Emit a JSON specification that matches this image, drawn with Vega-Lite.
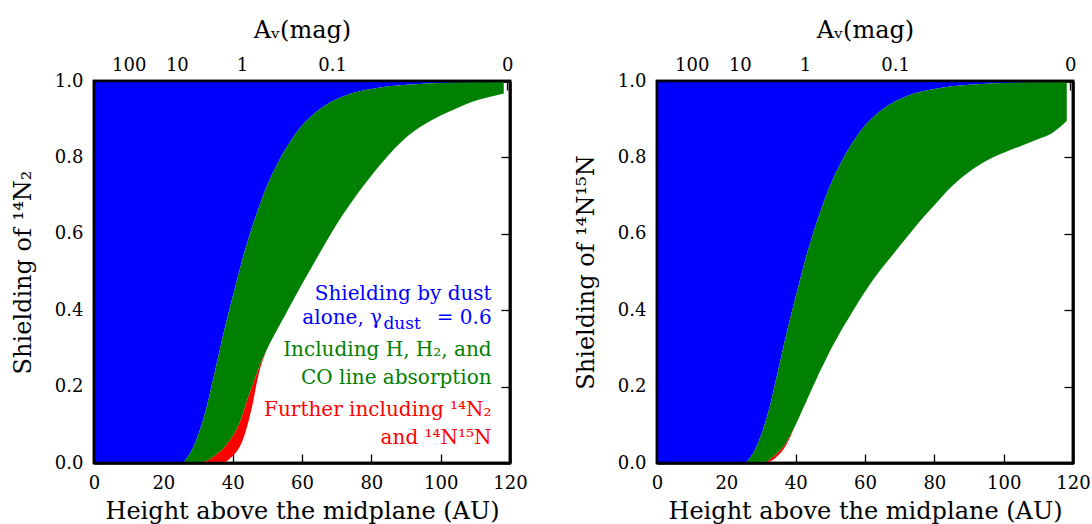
{
  "$schema": "https://vega.github.io/schema/vega-lite/v6.json",
  "padding": {"left": 10, "top": 16, "right": 0, "bottom": 0},
  "background": "white",
  "datasets": {
    "left": [
      {"x": 0.3, "dust": 0, "gas": 0, "n2": 0},
      {"x": 25.3, "dust": 0, "gas": 0, "n2": 0},
      {"x": 26.5, "dust": 0.01, "gas": 0, "n2": 0},
      {"x": 28, "dust": 0.03, "gas": 0, "n2": 0},
      {"x": 29.5, "dust": 0.06, "gas": 0, "n2": 0},
      {"x": 30.6, "dust": 0.088, "gas": 0, "n2": 0},
      {"x": 32, "dust": 0.13, "gas": 0.004, "n2": 0},
      {"x": 33, "dust": 0.165, "gas": 0.008, "n2": 0},
      {"x": 34, "dust": 0.205, "gas": 0.013, "n2": 0},
      {"x": 35, "dust": 0.245, "gas": 0.02, "n2": 0},
      {"x": 36, "dust": 0.285, "gas": 0.027, "n2": 0},
      {"x": 37, "dust": 0.325, "gas": 0.035, "n2": 0},
      {"x": 38, "dust": 0.363, "gas": 0.045, "n2": 0.003},
      {"x": 39, "dust": 0.4, "gas": 0.057, "n2": 0.01},
      {"x": 40, "dust": 0.435, "gas": 0.07, "n2": 0.018},
      {"x": 41, "dust": 0.47, "gas": 0.085, "n2": 0.028},
      {"x": 42, "dust": 0.505, "gas": 0.105, "n2": 0.042},
      {"x": 43, "dust": 0.54, "gas": 0.13, "n2": 0.062},
      {"x": 44, "dust": 0.57, "gas": 0.16, "n2": 0.09},
      {"x": 45, "dust": 0.6, "gas": 0.185, "n2": 0.125},
      {"x": 46, "dust": 0.628, "gas": 0.21, "n2": 0.165},
      {"x": 47, "dust": 0.655, "gas": 0.235, "n2": 0.212},
      {"x": 48, "dust": 0.68, "gas": 0.26, "n2": 0.25},
      {"x": 49, "dust": 0.705, "gas": 0.28, "n2": 0.277},
      {"x": 50, "dust": 0.727, "gas": 0.3, "n2": 0.299},
      {"x": 51, "dust": 0.748, "gas": 0.318, "n2": 0.318},
      {"x": 52, "dust": 0.767, "gas": 0.335, "n2": 0.335},
      {"x": 53, "dust": 0.785, "gas": 0.352, "n2": 0.352},
      {"x": 55, "dust": 0.818, "gas": 0.385, "n2": 0.385},
      {"x": 58, "dust": 0.86, "gas": 0.435, "n2": 0.435},
      {"x": 61, "dust": 0.893, "gas": 0.484, "n2": 0.484},
      {"x": 64, "dust": 0.918, "gas": 0.532, "n2": 0.532},
      {"x": 68, "dust": 0.943, "gas": 0.595, "n2": 0.595},
      {"x": 72, "dust": 0.96, "gas": 0.653, "n2": 0.653},
      {"x": 76, "dust": 0.972, "gas": 0.705, "n2": 0.705},
      {"x": 80, "dust": 0.979, "gas": 0.752, "n2": 0.752},
      {"x": 85, "dust": 0.986, "gas": 0.806, "n2": 0.806},
      {"x": 90, "dust": 0.99, "gas": 0.852, "n2": 0.852},
      {"x": 95, "dust": 0.993, "gas": 0.885, "n2": 0.885},
      {"x": 100, "dust": 0.995, "gas": 0.91, "n2": 0.91},
      {"x": 105, "dust": 0.996, "gas": 0.93, "n2": 0.93},
      {"x": 110, "dust": 0.997, "gas": 0.948, "n2": 0.948},
      {"x": 114, "dust": 0.997, "gas": 0.958, "n2": 0.958},
      {"x": 118.2, "dust": 0.998, "gas": 0.967, "n2": 0.967}
    ],
    "right": [
      {"x": 0.3, "dust": 0, "gas": 0, "n2": 0},
      {"x": 25.3, "dust": 0, "gas": 0, "n2": 0},
      {"x": 26.5, "dust": 0.01, "gas": 0, "n2": 0},
      {"x": 28, "dust": 0.03, "gas": 0, "n2": 0},
      {"x": 29.5, "dust": 0.06, "gas": 0, "n2": 0},
      {"x": 30.6, "dust": 0.088, "gas": 0, "n2": 0},
      {"x": 32, "dust": 0.13, "gas": 0.006, "n2": 0.002},
      {"x": 33, "dust": 0.165, "gas": 0.012, "n2": 0.006},
      {"x": 34, "dust": 0.205, "gas": 0.02, "n2": 0.012},
      {"x": 35, "dust": 0.245, "gas": 0.028, "n2": 0.02},
      {"x": 36, "dust": 0.285, "gas": 0.038, "n2": 0.03},
      {"x": 37, "dust": 0.325, "gas": 0.05, "n2": 0.043},
      {"x": 38, "dust": 0.363, "gas": 0.065, "n2": 0.06},
      {"x": 39, "dust": 0.4, "gas": 0.082, "n2": 0.08},
      {"x": 40, "dust": 0.435, "gas": 0.1, "n2": 0.1},
      {"x": 41, "dust": 0.47, "gas": 0.12, "n2": 0.12},
      {"x": 42, "dust": 0.505, "gas": 0.14, "n2": 0.14},
      {"x": 43, "dust": 0.54, "gas": 0.16, "n2": 0.16},
      {"x": 44, "dust": 0.57, "gas": 0.18, "n2": 0.18},
      {"x": 45, "dust": 0.6, "gas": 0.2, "n2": 0.2},
      {"x": 46, "dust": 0.628, "gas": 0.22, "n2": 0.22},
      {"x": 47, "dust": 0.655, "gas": 0.24, "n2": 0.24},
      {"x": 48, "dust": 0.68, "gas": 0.258, "n2": 0.258},
      {"x": 49, "dust": 0.705, "gas": 0.277, "n2": 0.277},
      {"x": 50, "dust": 0.727, "gas": 0.295, "n2": 0.295},
      {"x": 51, "dust": 0.748, "gas": 0.312, "n2": 0.312},
      {"x": 52, "dust": 0.767, "gas": 0.328, "n2": 0.328},
      {"x": 53, "dust": 0.785, "gas": 0.345, "n2": 0.345},
      {"x": 55, "dust": 0.818, "gas": 0.375, "n2": 0.375},
      {"x": 58, "dust": 0.86, "gas": 0.42, "n2": 0.42},
      {"x": 61, "dust": 0.893, "gas": 0.462, "n2": 0.462},
      {"x": 64, "dust": 0.918, "gas": 0.5, "n2": 0.5},
      {"x": 68, "dust": 0.943, "gas": 0.545, "n2": 0.545},
      {"x": 72, "dust": 0.96, "gas": 0.59, "n2": 0.59},
      {"x": 76, "dust": 0.972, "gas": 0.635, "n2": 0.635},
      {"x": 80, "dust": 0.979, "gas": 0.675, "n2": 0.675},
      {"x": 85, "dust": 0.986, "gas": 0.724, "n2": 0.724},
      {"x": 90, "dust": 0.99, "gas": 0.762, "n2": 0.762},
      {"x": 95, "dust": 0.993, "gas": 0.791, "n2": 0.791},
      {"x": 100, "dust": 0.995, "gas": 0.812, "n2": 0.812},
      {"x": 105, "dust": 0.996, "gas": 0.83, "n2": 0.83},
      {"x": 110, "dust": 0.997, "gas": 0.848, "n2": 0.848},
      {"x": 114, "dust": 0.997, "gas": 0.864, "n2": 0.864},
      {"x": 118.2, "dust": 0.998, "gas": 0.895, "n2": 0.895}
    ],
    "notes": [
      {"text": "Shielding by dust", "x": 114.7, "y": 0.426, "group": "dust"},
      {"text": "= 0.6", "x": 114.7, "y": 0.363, "group": "dust"},
      {"text": "alone, γ", "x": 83.1, "y": 0.363, "group": "dust"},
      {"text": "Including H, H₂, and", "x": 114.7, "y": 0.28, "group": "gas"},
      {"text": "CO line absorption", "x": 114.7, "y": 0.207, "group": "gas"},
      {"text": "Further including ¹⁴N₂", "x": 114.7, "y": 0.123, "group": "n2"},
      {"text": "and ¹⁴N¹⁵N", "x": 114.7, "y": 0.05, "group": "n2"}
    ],
    "subs": [
      {"text": "dust", "x": 83.5, "y": 0.352, "group": "dust"}
    ]
  },
  "hconcat": [
    {
      "width": 416,
      "height": 382,
      "layer": [
        {
          "data": {"name": "left"},
          "mark": {"type": "area", "interpolate": "monotone", "color": "#0000ff"},
          "encoding": {
            "x": {"field": "x", "type": "quantitative", "scale": {"domain": [0, 120], "nice": false},
              "axis": {"orient": "bottom", "values": [0, 20, 40, 60, 80, 100, 120], "title": "Height above the midplane (AU)", "labelPadding": 20, "titlePadding": 7}},
            "y": {"field": "dust", "type": "quantitative", "scale": {"domain": [0, 1], "nice": false, "zero": false},
              "axis": {"orient": "left", "values": [0, 0.2, 0.4, 0.6, 0.8, 1.0], "format": ".1f", "title": "Shielding of ¹⁴N₂", "labelPadding": 20, "titlePadding": 19}},
            "y2": {"datum": 1}
          }
        },
        {
          "data": {"name": "left"},
          "mark": {"type": "area", "interpolate": "monotone", "color": "#008000"},
          "encoding": {
            "x": {"field": "x", "type": "quantitative",
              "axis": {"orient": "top", "values": [10, 23.9, 42.65, 68.7, 119.2], "labelExpr": "datum.value < 15 ? '100' : datum.value < 30 ? '10' : datum.value < 50 ? '1' : datum.value < 100 ? '0.1' : '0'", "title": "Aᵥ(mag)", "labelPadding": 16, "titlePadding": 14}},
            "y": {"field": "gas", "type": "quantitative",
              "axis": {"orient": "right", "values": [0, 0.2, 0.4, 0.6, 0.8, 1.0], "labels": false, "title": null}},
            "y2": {"field": "dust"}
          }
        },
        {
          "data": {"name": "left"},
          "mark": {"type": "area", "interpolate": "monotone", "color": "#ff0000"},
          "encoding": {
            "x": {"field": "x", "type": "quantitative", "axis": null},
            "y": {"field": "n2", "type": "quantitative", "axis": null},
            "y2": {"field": "gas"}
          }
        },
        {
          "data": {"name": "notes"},
          "mark": {"type": "text", "align": "right", "baseline": "alphabetic", "fontSize": 20, "font": "DejaVu Serif"},
          "encoding": {
            "x": {"field": "x", "type": "quantitative", "axis": null},
            "y": {"field": "y", "type": "quantitative", "axis": null},
            "text": {"field": "text"},
            "color": {"field": "group", "type": "nominal", "legend": null,
              "scale": {"domain": ["dust", "gas", "n2"], "range": ["#0000ff", "#008000", "#ff0000"]}}
          }
        },
        {
          "data": {"name": "subs"},
          "mark": {"type": "text", "align": "left", "baseline": "alphabetic", "fontSize": 17, "font": "DejaVu Serif"},
          "encoding": {
            "x": {"field": "x", "type": "quantitative", "axis": null},
            "y": {"field": "y", "type": "quantitative", "axis": null},
            "text": {"field": "text"},
            "color": {"field": "group", "type": "nominal", "legend": null}
          }
        },
        {
          "data": {"values": [{}]},
          "mark": {"type": "rect", "filled": false, "stroke": "black", "strokeWidth": 2.5},
          "encoding": {
            "x": {"datum": 0, "type": "quantitative", "axis": null},
            "x2": {"datum": 120},
            "y": {"datum": 0, "type": "quantitative", "axis": null},
            "y2": {"datum": 1}
          }
        }
      ],
      "resolve": {"axis": {"x": "independent", "y": "independent"}}
    },
    {
      "width": 416,
      "height": 382,
      "layer": [
        {
          "data": {"name": "right"},
          "mark": {"type": "area", "interpolate": "monotone", "color": "#0000ff"},
          "encoding": {
            "x": {"field": "x", "type": "quantitative", "scale": {"domain": [0, 120], "nice": false},
              "axis": {"orient": "bottom", "values": [0, 20, 40, 60, 80, 100, 120], "title": "Height above the midplane (AU)", "labelPadding": 20, "titlePadding": 7}},
            "y": {"field": "dust", "type": "quantitative", "scale": {"domain": [0, 1], "nice": false, "zero": false},
              "axis": {"orient": "left", "values": [0, 0.2, 0.4, 0.6, 0.8, 1.0], "format": ".1f", "title": "Shielding of ¹⁴N¹⁵N", "labelPadding": 20, "titlePadding": 19}},
            "y2": {"datum": 1}
          }
        },
        {
          "data": {"name": "right"},
          "mark": {"type": "area", "interpolate": "monotone", "color": "#008000"},
          "encoding": {
            "x": {"field": "x", "type": "quantitative",
              "axis": {"orient": "top", "values": [10, 23.9, 42.65, 68.7, 119.2], "labelExpr": "datum.value < 15 ? '100' : datum.value < 30 ? '10' : datum.value < 50 ? '1' : datum.value < 100 ? '0.1' : '0'", "title": "Aᵥ(mag)", "labelPadding": 16, "titlePadding": 14}},
            "y": {"field": "gas", "type": "quantitative",
              "axis": {"orient": "right", "values": [0, 0.2, 0.4, 0.6, 0.8, 1.0], "labels": false, "title": null}},
            "y2": {"field": "dust"}
          }
        },
        {
          "data": {"name": "right"},
          "mark": {"type": "area", "interpolate": "monotone", "color": "#ff0000"},
          "encoding": {
            "x": {"field": "x", "type": "quantitative", "axis": null},
            "y": {"field": "n2", "type": "quantitative", "axis": null},
            "y2": {"field": "gas"}
          }
        },
        {
          "data": {"values": [{}]},
          "mark": {"type": "rect", "filled": false, "stroke": "black", "strokeWidth": 2.5},
          "encoding": {
            "x": {"datum": 0, "type": "quantitative", "axis": null},
            "x2": {"datum": 120},
            "y": {"datum": 0, "type": "quantitative", "axis": null},
            "y2": {"datum": 1}
          }
        }
      ],
      "resolve": {"axis": {"x": "independent", "y": "independent"}}
    }
  ],
  "spacing": 44,
  "config": {
    "font": "DejaVu Serif",
    "view": {"stroke": "black", "strokeWidth": 2.5},
    "axis": {
      "labelFont": "DejaVu Serif", "titleFont": "DejaVu Serif",
      "labelFontSize": 18, "titleFontSize": 24, "titleFontWeight": "normal",
      "labelColor": "black", "titleColor": "black",
      "domain": true, "domainColor": "black", "domainWidth": 2.5,
      "tickColor": "black", "tickWidth": 1.3, "tickSize": -9,
      "grid": false, "zindex": 1, "labelFlush": false, "labelOverlap": false
    }
  }
}
